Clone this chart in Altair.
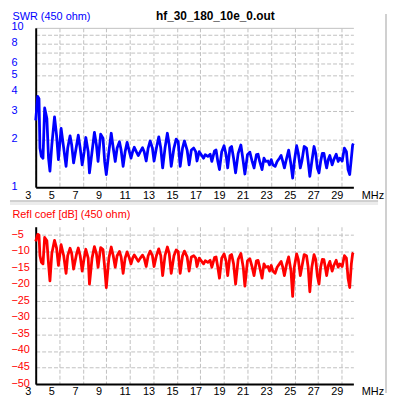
import altair as alt
import pandas as pd

freq = [3.0, 3.17, 3.28, 3.36, 3.48, 3.62, 3.76, 3.95, 4.09, 4.21,
        4.37, 4.60, 4.77, 4.93, 5.16, 5.38, 5.58, 5.72, 5.92, 6.06,
        6.22, 6.48, 6.62, 6.78, 6.95, 7.12, 7.26, 7.46, 7.57, 7.79,
        7.99, 8.16, 8.30, 8.52, 8.72, 8.86, 9.00, 9.22, 9.42, 9.59,
        9.76, 9.92, 10.12, 10.26, 10.43, 10.60, 10.77, 10.93, 11.10, 11.24,
        11.38, 11.55, 11.72, 11.89, 12.08, 12.22, 12.39, 12.56, 12.73, 12.92,
        13.06, 13.26, 13.46, 13.63, 13.79, 13.99, 14.19, 14.35, 14.52, 14.75,
        14.94, 15.11, 15.28, 15.48, 15.64, 15.87, 16.04, 16.23, 16.43, 16.60,
        16.71, 16.90, 17.07, 17.27, 17.41, 17.63, 17.83, 17.97, 18.20, 18.33,
        18.48, 18.62, 18.81, 19.01, 19.18, 19.32, 19.51, 19.65, 19.82, 19.99,
        20.21, 20.44, 20.64, 20.78, 21.00, 21.20, 21.40, 21.56, 21.76, 21.90,
        22.04, 22.24, 22.40, 22.54, 22.74, 22.88, 23.02, 23.16, 23.35, 23.52,
        23.72, 23.86, 24.00, 24.14, 24.33, 24.50, 24.70, 24.84, 24.98, 25.18,
        25.32, 25.49, 25.62, 25.82, 26.02, 26.16, 26.30, 26.47, 26.66, 26.80,
        26.94, 27.08, 27.22, 27.36, 27.50, 27.64, 27.73, 27.87, 28.00, 28.20,
        28.34, 28.54, 28.71, 28.85, 29.05, 29.24, 29.41, 29.55, 29.69, 29.83,
        29.94, 30.0]

swr = [2.63, 3.71, 3.59, 1.76, 1.56, 1.52, 3.14, 2.70, 1.52, 1.26,
       1.84, 2.76, 2.12, 1.49, 2.34, 1.76, 1.35, 1.76, 2.10, 1.84,
       1.42, 1.84, 2.12, 1.76, 1.38, 1.67, 2.05, 1.67, 1.23, 1.67,
       2.21, 1.84, 1.45, 2.15, 2.03, 1.45, 1.20, 1.67, 2.18, 1.76,
       1.45, 1.76, 1.93, 1.71, 1.35, 1.67, 1.91, 1.71, 1.52, 1.67,
       1.78, 1.67, 1.58, 1.67, 1.77, 1.67, 1.46, 1.76, 1.95, 1.76,
       1.46, 1.76, 2.07, 1.76, 1.32, 1.76, 2.18, 1.84, 1.35, 1.76,
       2.00, 1.93, 1.35, 1.76, 1.95, 1.71, 1.38, 1.71, 1.76, 1.67,
       1.46, 1.67, 1.60, 1.52, 1.60, 1.56, 1.61, 1.45, 1.69, 1.71,
       1.45, 1.29, 1.67, 1.82, 1.60, 1.32, 1.76, 1.80, 1.52, 1.23,
       1.63, 1.84, 1.45, 1.21, 1.60, 1.66, 1.45, 1.32, 1.60, 1.61,
       1.45, 1.29, 1.52, 1.45, 1.46, 1.38, 1.49, 1.38, 1.35, 1.45,
       1.52, 1.58, 1.45, 1.32, 1.52, 1.71, 1.38, 1.14, 1.45, 1.82,
       1.63, 1.32, 1.45, 1.80, 1.76, 1.45, 1.17, 1.45, 1.80, 1.63,
       1.32, 1.23, 1.45, 1.63, 1.63, 1.42, 1.32, 1.49, 1.58, 1.38,
       1.49, 1.61, 1.45, 1.52, 1.46, 1.76, 1.67, 1.29, 1.20, 1.52,
       1.84, 1.88]

refl_db = [-6.95, -4.80, -4.97, -11.24, -13.24, -13.71, -5.73, -6.75, -13.71, -18.87,
           -10.58, -6.59, -8.90, -14.19, -7.93, -11.24, -16.54, -11.24, -9.00, -10.58,
           -15.28, -10.58, -8.90, -11.24, -15.88, -11.97, -9.29, -11.97, -19.80, -11.97,
           -8.47, -10.58, -14.72, -8.78, -9.40, -14.72, -20.87, -11.97, -8.61, -11.24,
           -14.72, -11.24, -9.97, -11.60, -16.54, -11.97, -10.08, -11.60, -13.71, -11.97,
           -11.03, -11.97, -12.96, -11.97, -11.09, -11.97, -14.50, -11.24, -9.84, -11.24,
           -14.50, -11.24, -9.16, -11.24, -17.25, -11.24, -8.61, -10.58, -16.54, -11.24,
           -9.51, -9.97, -16.54, -11.24, -9.84, -11.60, -15.88, -11.60, -11.24, -11.97,
           -14.50, -11.97, -12.78, -13.71, -12.78, -13.24, -12.63, -14.72, -11.82, -11.60,
           -14.72, -18.03, -11.97, -10.70, -12.78, -17.25, -11.24, -10.90, -13.71, -19.80,
           -12.37, -10.58, -14.72, -20.44, -12.78, -12.13, -14.72, -17.25, -12.78, -12.63,
           -14.72, -18.03, -13.71, -14.72, -14.50, -15.88, -14.19, -15.88, -16.54, -14.72,
           -13.71, -12.96, -14.72, -17.25, -13.71, -11.60, -15.88, -23.5, -14.72, -10.70,
           -12.37, -17.25, -14.72, -10.90, -11.24, -14.72, -22.12, -14.72, -10.90, -12.37,
           -17.25, -19.80, -14.72, -12.37, -12.44, -15.28, -17.25, -14.19, -12.96, -15.88,
           -14.19, -12.63, -14.72, -13.71, -14.50, -11.24, -11.97, -18.03, -20.87, -13.71,
           -10.58, -10.32]

x_ticks = [3, 5, 7, 9, 11, 13, 15, 17, 19, 21, 23, 25, 27, 29]
swr_ticks = [1, 2, 3, 4, 5, 6, 7, 8, 9, 10]
db_ticks = [-50, -45, -40, -35, -30, -25, -20, -15, -10, -5]
file_title = "hf_30_180_10e_0.out"

FONT = "Liberation Sans"
GRID = "#c0c0c0"
BLUE = "#0000ff"
RED = "#ff0000"

df = pd.DataFrame({"freq": freq, "swr": swr, "refl": refl_db})

W = 321
H_TOP = 161
H_BOT = 159
GAP = 40


def x_enc():
    return alt.X(
        "freq:Q",
        scale=alt.Scale(domain=[3, 30], nice=False, zero=False),
        axis=alt.Axis(
            values=x_ticks, format="d", title="MHz", titleAngle=0,
            titleAlign="left", titleBaseline="middle", titleX=329, titleY=8,
            titleFont=FONT, titleFontSize=11, titleFontWeight="normal", titleColor="black",
            labelAlign="left", labelOffset=-11, labelBaseline="middle", labelPadding=8,
            labelFlush=False, labelOverlap=False, labelFont=FONT, labelFontSize=11,
            labelColor="black", ticks=False, tickSize=0,
            domainColor="black", domainWidth=2,
            grid=True, gridColor=GRID, gridDash=[4, 2], gridWidth=1,
        ),
    )


top_line = alt.Chart(df).mark_line(color=BLUE, strokeWidth=2.8, strokeJoin="round").encode(
    x=x_enc(),
    y=alt.Y(
        "swr:Q",
        scale=alt.Scale(type="log", domain=[1, 10], nice=False),
        axis=alt.Axis(
            values=swr_ticks, format="d",
            labelExpr="datum.value == 7 || datum.value == 9 ? '' : datum.label",
            labelAlign="left", labelBaseline="middle", labelPadding=25, labelOffset=-1,
            labelFlush=False, labelOverlap=False, labelFont=FONT, labelFontSize=11,
            labelColor=BLUE, ticks=False, tickSize=0,
            domainColor="black", domainWidth=2,
            grid=True, gridColor=GRID, gridWidth=1,
            gridDash={"condition": {"test": "datum.value >= 10", "value": []}, "value": [4, 2]},
            title="SWR (450 ohm)", titleAngle=0, titleAlign="left", titleBaseline="middle",
            titleX=-24, titleY=-11.5, titleFont=FONT, titleFontSize=11,
            titleFontWeight="normal", titleColor=BLUE,
        ),
    ),
)

one = alt.Data(values=[{"k": 0}])

top_title = alt.Chart(one).mark_text(
    text=file_title, font=FONT, fontSize=12, fontWeight="bold", color="black",
    align="center", baseline="middle",
).encode(x=alt.value(181.5), y=alt.value(-11.5))

top = alt.layer(top_line, top_title).properties(width=W, height=H_TOP)

bottom_line = alt.Chart(df).mark_line(color=RED, strokeWidth=2.8, strokeJoin="round").encode(
    x=x_enc(),
    y=alt.Y(
        "refl:Q",
        scale=alt.Scale(domain=[-50, -2.5], nice=False, zero=False),
        axis=alt.Axis(
            values=db_ticks, format="d",
            labelAlign="left", labelBaseline="middle", labelPadding=25, labelOffset=-1,
            labelFlush=False, labelOverlap=False, labelFont=FONT, labelFontSize=11,
            labelColor=RED, ticks=False, tickSize=0,
            domainColor="black", domainWidth=2,
            grid=True, gridColor=GRID, gridWidth=1, gridDash=[4, 2],
            title="Refl coef [dB] (450 ohm)", titleAngle=0, titleAlign="left",
            titleBaseline="middle", titleX=-24, titleY=-12.5, titleFont=FONT,
            titleFontSize=11, titleFontWeight="normal", titleColor=RED,
        ),
    ),
)

# window-style frame pieces (separator between the two panels, right border)
sep_band = alt.Chart(one).mark_rule(color="#ececec", strokeWidth=3).encode(
    x=alt.value(-26), x2=alt.value(346), y=alt.value(-23.5))
sep_top = alt.Chart(one).mark_rule(color="#a0a0a0", strokeWidth=1).encode(
    x=alt.value(-26), x2=alt.value(346), y=alt.value(-26))
right_line = alt.Chart(one).mark_rule(color="#a0a0a0", strokeWidth=1).encode(
    x=alt.value(354), y=alt.value(-(H_TOP + GAP + 14)), y2=alt.value(H_BOT + 9))

bottom = alt.layer(sep_band, sep_top, right_line, bottom_line).properties(
    width=W, height=H_BOT)

chart = alt.vconcat(top, bottom, spacing=GAP, bounds="flush").properties(
    padding={"left": 0, "top": 0, "right": 0, "bottom": 0}, background="white"
).configure_view(strokeWidth=0)

chart.save("out.html", embed_options={"renderer": "svg", "actions": False})
